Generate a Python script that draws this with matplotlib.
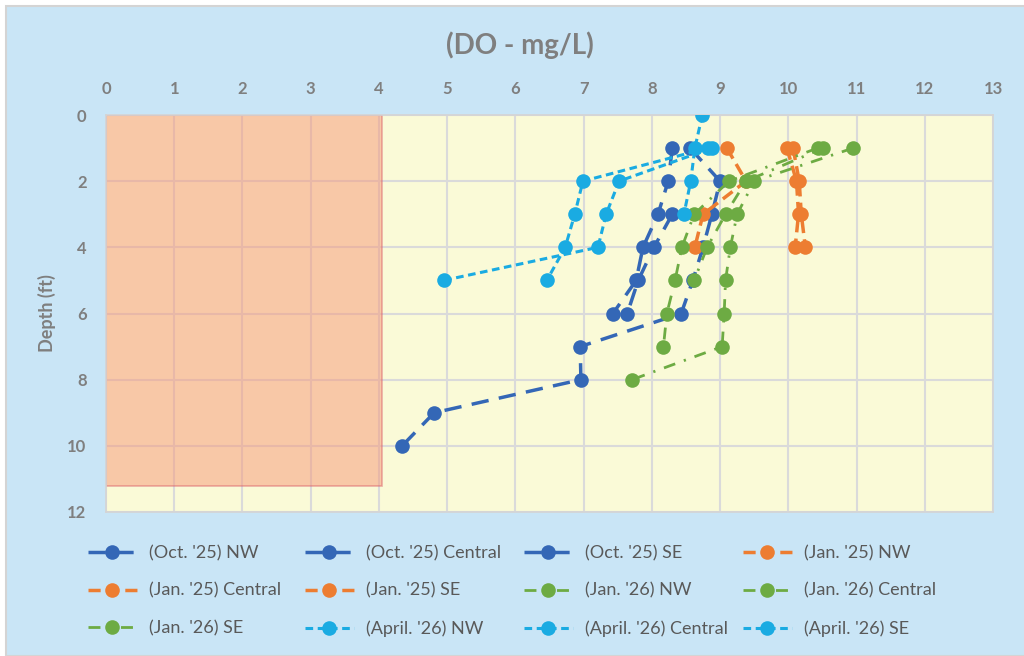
import numpy as np
import matplotlib
matplotlib.use("Agg")
import matplotlib.pyplot as plt
from matplotlib.patches import Rectangle

plt.rcParams['font.family'] = ['Lato', 'DejaVu Sans']

# Daten (Tiefe in ft, DO in mg/L)
oct_nw_depth = [1, 2, 3, 4, 5, 6]
oct_nw_do = [8.30, 8.24, 8.09, 7.87, 7.77, 7.43]
oct_central_depth = [3, 4, 5, 6]
oct_central_do = [8.30, 8.03, 7.80, 7.64]
oct_se_depth = [1, 2, 3, 4, 5, 6, 7, 8, 9, 10]
oct_se_do = [8.56, 9.00, 8.88, 8.75, 8.60, 8.43, 6.95, 6.96, 4.81, 4.34]

jan25_nw_depth = [1, 2, 3, 4]
jan25_nw_do = [9.10, 9.38, 8.75, 8.63]
jan25_central_depth = [1, 2, 3, 4]
jan25_central_do = [9.98, 10.12, 10.15, 10.10]
jan25_se_depth = [1, 2, 3, 4]
jan25_se_do = [10.07, 10.16, 10.19, 10.25]

jan26_nw_depth = [1, 2, 3, 4, 5, 6, 7, 8]
jan26_nw_do = [10.95, 9.50, 9.25, 9.15, 9.08, 9.06, 9.03, 7.71]
jan26_central_depth = [1, 2, 3, 4, 5, 6, 7]
jan26_central_do = [10.43, 9.13, 8.62, 8.44, 8.34, 8.22, 8.17]
jan26_se_depth = [1, 2, 3, 4, 5]
jan26_se_do = [10.51, 9.38, 9.08, 8.81, 8.62]

apr26_nw_depth = [0, 1, 2, 3]
apr26_nw_do = [8.74, 8.63, 8.57, 8.47]
apr26_central_depth = [1, 2, 3, 4, 5]
apr26_central_do = [8.82, 6.99, 6.87, 6.73, 6.46]
apr26_se_depth = [1, 2, 3, 4, 5]
apr26_se_do = [8.88, 7.52, 7.33, 7.21, 4.95]

labels = ["(Oct. '25) NW", "(Oct. '25) Central", "(Oct. '25) SE",
          "(Jan. '25) NW", "(Jan. '25) Central", "(Jan. '25) SE",
          "(Jan. '26) NW", "(Jan. '26) Central", "(Jan. '26) SE",
          "(April. '26) NW", "(April. '26) Central", "(April. '26) SE"]

# Farben / Linienstile
c_oct = '#3467B6'
c_jan25 = '#ED7D31'
c_jan26 = '#6DAB43'
c_apr = '#1AABE2'
grau = '#7F7F7F'

fig = plt.figure(figsize=(10.24, 6.56), dpi=100)
fig.patch.set_facecolor('white')
fig.patches.append(Rectangle((6 / 1024, 0), 1, 1 - 6 / 656, transform=fig.transFigure,
                             facecolor='#C9E5F6', edgecolor='#D4D4D4', lw=1.5, zorder=-10))

ax = fig.add_axes([106 / 1024, 1 - 512 / 656, (993 - 106) / 1024, (512 - 115) / 656])
ax.set_facecolor('#FAFAD7')

ls_oct = (0, (5, 3))
ls_jan25 = (0, (3.5, 1.8))
ls_jan26 = (0, (4.3, 3.3, 0.8, 3.3))
ls_apr = (0, (2.5, 1.5))

serien = [
    (oct_nw_depth, oct_nw_do, c_oct, ls_oct, 2.5),
    (oct_central_depth, oct_central_do, c_oct, ls_oct, 2.5),
    (oct_se_depth, oct_se_do, c_oct, ls_oct, 2.5),
    (jan25_nw_depth, jan25_nw_do, c_jan25, ls_jan25, 2.5),
    (jan25_central_depth, jan25_central_do, c_jan25, ls_jan25, 2.5),
    (jan25_se_depth, jan25_se_do, c_jan25, ls_jan25, 2.5),
    (jan26_nw_depth, jan26_nw_do, c_jan26, ls_jan26, 2.0),
    (jan26_central_depth, jan26_central_do, c_jan26, ls_jan26, 2.0),
    (jan26_se_depth, jan26_se_do, c_jan26, ls_jan26, 2.0),
    (apr26_nw_depth, apr26_nw_do, c_apr, ls_apr, 2.2),
    (apr26_central_depth, apr26_central_do, c_apr, ls_apr, 2.2),
    (apr26_se_depth, apr26_se_do, c_apr, ls_apr, 2.2),
]

handles = []
for (d, v, col, ls, lw), lab in zip(serien, labels):
    h, = ax.plot(v, d, color=col, linestyle=ls, lw=lw, marker='o', markersize=10.5,
                 markeredgewidth=0, label=lab, zorder=3)
    handles.append(h)

# kritischer Bereich (< 4 mg/L)
ax.add_patch(Rectangle((0, 0), 4.05, 11.2, facecolor='#F79878', alpha=0.5,
                       edgecolor='#D9606A', lw=1.2, zorder=2))

ax.set_xlim(0, 13)
ax.set_ylim(12, 0)
ax.set_xticks(np.arange(0, 14, 1))
ax.set_yticks(np.arange(0, 13, 2))
ax.xaxis.tick_top()
ax.tick_params(axis='both', length=0, labelsize=12, labelcolor=grau)
ax.tick_params(axis='x', pad=13)
ax.tick_params(axis='y', pad=14)
for t in ax.get_xticklabels() + ax.get_yticklabels():
    t.set_fontweight('bold')
ax.grid(True, color='#DADADA', lw=1.5, zorder=1)
ax.set_axisbelow(True)
for s in ax.spines.values():
    s.set_color('#D4D4D4')
    s.set_linewidth(1.2)

ax.set_ylabel('Depth (ft)', fontsize=13, fontweight='bold', color=grau, labelpad=8)
fig.text(0.508, 1 - 45 / 656, '(DO - mg/L)', ha='center', va='center',
         fontsize=20, fontweight='bold', color=grau)

# Legende: 4 Spalten mit festem Abstand, zeilenweise gefuellt
ncol, nrow = 4, 3
spalten_x = [88, 305, 524, 743]
for c in range(ncol):
    idx = [r * ncol + c for r in range(nrow)]
    fig.legend([handles[i] for i in idx], [labels[i] for i in idx],
               loc='upper left', bbox_to_anchor=(spalten_x[c] / 1024, 1 - 545 / 656),
               frameon=False, fontsize=13, labelcolor='#595959', handlelength=2.7,
               handletextpad=0.7, labelspacing=1.2, borderpad=0, borderaxespad=0)

fig.savefig('out.png', dpi=100, facecolor=fig.get_facecolor())
